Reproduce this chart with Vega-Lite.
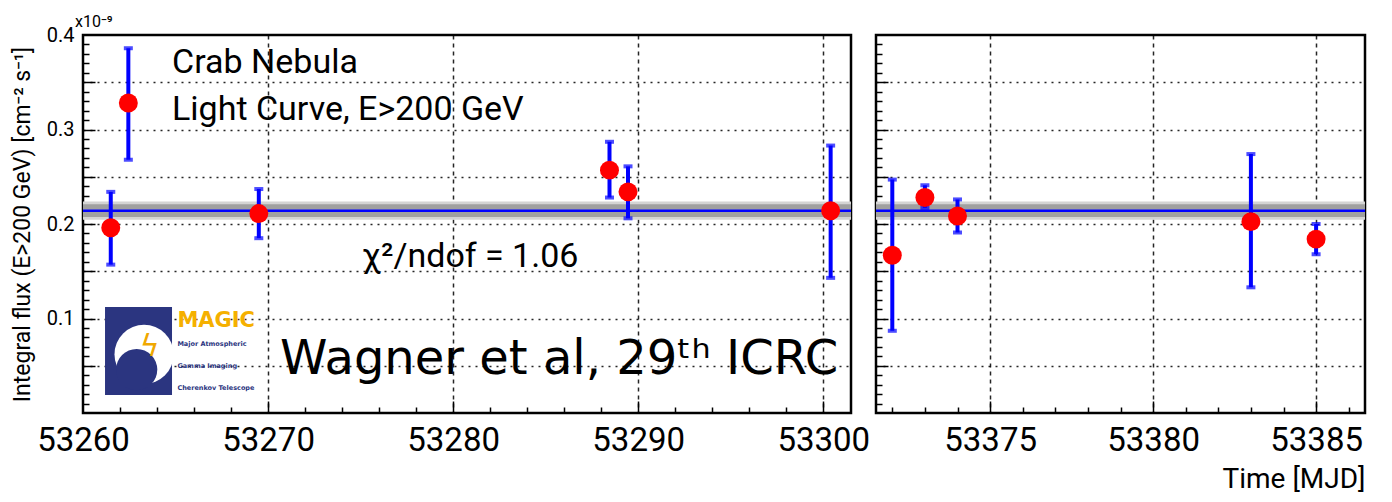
{
  "$schema": "https://vega.github.io/schema/vega-lite/v6.json",
  "background": "white",
  "padding": {"left": 9, "top": 12, "right": 5, "bottom": 5},
  "bounds": "flush",
  "spacing": 25,
  "datasets": {
    "left": [
      {"mjd": 53261.5, "flux": 0.196, "lo": 0.157, "hi": 0.234},
      {"mjd": 53262.45, "flux": 0.328, "lo": 0.268, "hi": 0.386},
      {"mjd": 53269.5, "flux": 0.211, "lo": 0.185, "hi": 0.237},
      {"mjd": 53288.45, "flux": 0.257, "lo": 0.228, "hi": 0.287},
      {"mjd": 53289.45, "flux": 0.234, "lo": 0.206, "hi": 0.261},
      {"mjd": 53300.4, "flux": 0.214, "lo": 0.143, "hi": 0.283}
    ],
    "right": [
      {"mjd": 53372, "flux": 0.167, "lo": 0.087, "hi": 0.247},
      {"mjd": 53373, "flux": 0.228, "lo": 0.217, "hi": 0.241},
      {"mjd": 53374, "flux": 0.2085, "lo": 0.191, "hi": 0.226},
      {"mjd": 53383, "flux": 0.2025, "lo": 0.133, "hi": 0.274},
      {"mjd": 53385, "flux": 0.184, "lo": 0.168, "hi": 0.2}
    ]
  },
  "config": {
    "view": {"stroke": "black", "strokeWidth": 2.5},
    "axis": {
      "domain": false,
      "labelFont": "Roboto, sans-serif",
      "titleFont": "Roboto, sans-serif",
      "labelColor": "black",
      "titleColor": "black",
      "tickColor": "black",
      "tickWidth": 1.5,
      "gridColor": "black",
      "gridWidth": 1.5,
      "gridOpacity": 0.85
    },
    "text": {"font": "Roboto, sans-serif", "color": "black"}
  },
  "hconcat": [
    {
      "width": 768,
      "height": 378,
      "data": {"name": "left"},
      "resolve": {"axis": {"x": "independent", "y": "independent"}},
      "layer": [
        {
          "data": {"values": [{}]},
          "mark": {"type": "rect", "color": "#d4d4d4"},
          "encoding": {"y": {"datum": 0.2045, "type": "quantitative", "axis": null}, "y2": {"datum": 0.2238}}
        },
        {
          "data": {"values": [{}]},
          "mark": {"type": "rect", "color": "#a0a0a0"},
          "encoding": {"y": {"datum": 0.2075, "type": "quantitative", "axis": null}, "y2": {"datum": 0.2208}}
        },
        {
          "data": {"values": [{}]},
          "mark": {"type": "rule", "color": "#0000ff", "strokeWidth": 2.5},
          "encoding": {"y": {"datum": 0.2141, "type": "quantitative", "axis": null}}
        },
        {
          "mark": {"type": "rule", "color": "#0000ff", "strokeWidth": 4},
          "encoding": {
            "x": {"field": "mjd", "type": "quantitative", "scale": {"domain": [53260, 53301.5], "nice": false, "zero": false},
              "axis": {"orient": "bottom", "values": [53270, 53280, 53290, 53300], "labels": false, "title": null, "tickSize": -12, "grid": true, "gridDash": [4, 4]}},
            "y": {"field": "lo", "type": "quantitative", "scale": {"domain": [0, 0.4], "nice": false, "zero": false},
              "axis": {"orient": "left", "values": [0.05, 0.1, 0.15, 0.2, 0.25, 0.3, 0.35], "labels": false, "title": null, "tickSize": -12, "grid": true, "gridDash": [2, 5]}},
            "y2": {"field": "hi"}
          }
        },
        {
          "mark": {"type": "tick", "orient": "horizontal", "color": "#0000ff", "size": 9, "thickness": 4},
          "encoding": {
            "x": {"field": "mjd", "type": "quantitative",
              "axis": {"orient": "bottom", "values": [53262, 53264, 53266, 53268, 53272, 53274, 53276, 53278, 53282, 53284, 53286, 53288, 53292, 53294, 53296, 53298], "labels": false, "title": null, "tickSize": -6, "grid": false}},
            "y": {"field": "lo", "type": "quantitative",
              "axis": {"orient": "left", "values": [0.01, 0.02, 0.03, 0.04, 0.06, 0.07, 0.08, 0.09, 0.11, 0.12, 0.13, 0.14, 0.16, 0.17, 0.18, 0.19, 0.21, 0.22, 0.23, 0.24, 0.26, 0.27, 0.28, 0.29, 0.31, 0.32, 0.33, 0.34, 0.36, 0.37, 0.38, 0.39], "labels": false, "title": null, "tickSize": -6, "grid": false}}
          }
        },
        {
          "mark": {"type": "tick", "orient": "horizontal", "color": "#0000ff", "size": 9, "thickness": 4},
          "encoding": {
            "x": {"field": "mjd", "type": "quantitative", "axis": null},
            "y": {"field": "hi", "type": "quantitative", "axis": null}
          }
        },
        {
          "mark": {"type": "point", "shape": "circle", "filled": true, "color": "#ff0000", "size": 360, "opacity": 1},
          "encoding": {
            "x": {"field": "mjd", "type": "quantitative",
              "axis": {"orient": "bottom", "values": [53260, 53270, 53280, 53290, 53300], "format": "d", "ticks": false, "grid": false, "title": null, "labelFontSize": 33, "labelPadding": 11, "labelFlush": false}},
            "y": {"field": "flux", "type": "quantitative",
              "axis": {"orient": "left", "values": [0.1, 0.2, 0.3, 0.4], "ticks": false, "grid": false, "labelFontSize": 20, "labelPadding": 9, "format": ".1f",
                "title": "Integral flux (E>200 GeV) [cm⁻² s⁻¹]", "titleFontSize": 23, "titleFontWeight": "normal", "titlePadding": 12}}
          }
        },
        {
          "data": {"values": [{}]},
          "mark": {"type": "rect", "color": "#2b3580"},
          "encoding": {
            "x": {"datum": 53261.19, "type": "quantitative", "axis": null}, "x2": {"datum": 53264.81},
            "y": {"datum": 0.1122, "type": "quantitative", "axis": null}, "y2": {"datum": 0.019}
          }
        },
        {
          "data": {"values": [{}]},
          "mark": {"type": "point", "shape": "circle", "filled": true, "color": "white", "size": 3500, "opacity": 1},
          "encoding": {"x": {"datum": 53263.3, "type": "quantitative", "axis": null}, "y": {"datum": 0.062, "type": "quantitative", "axis": null}}
        },
        {
          "data": {"values": [{}]},
          "mark": {"type": "point", "shape": "circle", "filled": true, "color": "#2b3580", "size": 1700, "opacity": 1},
          "encoding": {"x": {"datum": 53262.9, "type": "quantitative", "axis": null}, "y": {"datum": 0.046, "type": "quantitative", "axis": null}}
        },
        {
          "data": {"values": [{}]},
          "mark": {"type": "text", "text": "ϟ", "color": "#f0a800", "fontSize": 30, "font": "DejaVu Sans", "align": "center", "baseline": "middle"},
          "encoding": {"x": {"datum": 53263.6, "type": "quantitative", "axis": null}, "y": {"datum": 0.07, "type": "quantitative", "axis": null}}
        },
        {
          "data": {"values": [{}]},
          "mark": {"type": "text", "text": "MAGIC", "color": "#f5b000", "fontSize": 21, "fontWeight": "bold", "font": "DejaVu Sans", "align": "left", "baseline": "alphabetic"},
          "encoding": {"x": {"datum": 53265.1, "type": "quantitative", "axis": null}, "y": {"datum": 0.0905, "type": "quantitative", "axis": null}}
        },
        {
          "data": {"values": [{}]},
          "mark": {"type": "text", "text": "Major Atmospheric", "color": "#2b3580", "fontSize": 6.5, "fontWeight": "bold", "font": "DejaVu Sans", "align": "left", "baseline": "alphabetic"},
          "encoding": {"x": {"datum": 53265.1, "type": "quantitative", "axis": null}, "y": {"datum": 0.071, "type": "quantitative", "axis": null}}
        },
        {
          "data": {"values": [{}]},
          "mark": {"type": "text", "text": "Gamma Imaging", "color": "#2b3580", "fontSize": 6.5, "fontWeight": "bold", "font": "DejaVu Sans", "align": "left", "baseline": "alphabetic"},
          "encoding": {"x": {"datum": 53265.1, "type": "quantitative", "axis": null}, "y": {"datum": 0.0475, "type": "quantitative", "axis": null}}
        },
        {
          "data": {"values": [{}]},
          "mark": {"type": "text", "text": "Cherenkov Telescope", "color": "#2b3580", "fontSize": 6.5, "fontWeight": "bold", "font": "DejaVu Sans", "align": "left", "baseline": "alphabetic"},
          "encoding": {"x": {"datum": 53265.1, "type": "quantitative", "axis": null}, "y": {"datum": 0.024, "type": "quantitative", "axis": null}}
        },
        {
          "data": {"values": [{}]},
          "mark": {"type": "text", "text": "Crab Nebula", "fontSize": 34, "align": "left", "baseline": "alphabetic"},
          "encoding": {"x": {"datum": 53264.81, "type": "quantitative", "axis": null}, "y": {"datum": 0.3598, "type": "quantitative", "axis": null}}
        },
        {
          "data": {"values": [{}]},
          "mark": {"type": "text", "text": "Light Curve, E>200 GeV", "fontSize": 34, "align": "left", "baseline": "alphabetic"},
          "encoding": {"x": {"datum": 53264.81, "type": "quantitative", "axis": null}, "y": {"datum": 0.31, "type": "quantitative", "axis": null}}
        },
        {
          "data": {"values": [{}]},
          "mark": {"type": "text", "text": "χ²/ndof = 1.06", "fontSize": 34, "align": "left", "baseline": "alphabetic"},
          "encoding": {"x": {"datum": 53275.08, "type": "quantitative", "axis": null}, "y": {"datum": 0.1545, "type": "quantitative", "axis": null}}
        },
        {
          "data": {"values": [{}]},
          "mark": {"type": "text", "text": "Wagner et al, 29ᵗʰ ICRC", "fontSize": 48, "font": "DejaVu Sans", "align": "left", "baseline": "alphabetic"},
          "encoding": {"x": {"datum": 53270.65, "type": "quantitative", "axis": null}, "y": {"datum": 0.041, "type": "quantitative", "axis": null}}
        },
        {
          "data": {"values": [{}]},
          "mark": {"type": "text", "text": "x10⁻⁹", "fontSize": 16, "align": "left", "baseline": "alphabetic", "dx": -8, "dy": -8},
          "encoding": {"x": {"datum": 53260, "type": "quantitative", "axis": null}, "y": {"datum": 0.4, "type": "quantitative", "axis": null}}
        }
      ]
    },
    {
      "width": 489,
      "height": 378,
      "data": {"name": "right"},
      "resolve": {"axis": {"x": "independent", "y": "independent"}},
      "layer": [
        {
          "data": {"values": [{}]},
          "mark": {"type": "rect", "color": "#d4d4d4"},
          "encoding": {"y": {"datum": 0.2045, "type": "quantitative", "axis": null}, "y2": {"datum": 0.2238}}
        },
        {
          "data": {"values": [{}]},
          "mark": {"type": "rect", "color": "#a0a0a0"},
          "encoding": {"y": {"datum": 0.2075, "type": "quantitative", "axis": null}, "y2": {"datum": 0.2208}}
        },
        {
          "data": {"values": [{}]},
          "mark": {"type": "rule", "color": "#0000ff", "strokeWidth": 2.5},
          "encoding": {"y": {"datum": 0.2141, "type": "quantitative", "axis": null}}
        },
        {
          "mark": {"type": "rule", "color": "#0000ff", "strokeWidth": 4},
          "encoding": {
            "x": {"field": "mjd", "type": "quantitative", "scale": {"domain": [53371.5, 53386.5], "nice": false, "zero": false},
              "axis": {"orient": "bottom", "values": [53375, 53380, 53385], "labels": false, "title": null, "tickSize": -12, "grid": true, "gridDash": [4, 4]}},
            "y": {"field": "lo", "type": "quantitative", "scale": {"domain": [0, 0.4], "nice": false, "zero": false},
              "axis": {"orient": "left", "values": [0.05, 0.1, 0.15, 0.2, 0.25, 0.3, 0.35], "labels": false, "title": null, "tickSize": -12, "grid": true, "gridDash": [2, 5]}},
            "y2": {"field": "hi"}
          }
        },
        {
          "mark": {"type": "tick", "orient": "horizontal", "color": "#0000ff", "size": 9, "thickness": 4},
          "encoding": {
            "x": {"field": "mjd", "type": "quantitative",
              "axis": {"orient": "bottom", "values": [53372, 53373, 53374, 53376, 53377, 53378, 53379, 53381, 53382, 53383, 53384, 53386], "labels": false, "title": null, "tickSize": -6, "grid": false}},
            "y": {"field": "lo", "type": "quantitative",
              "axis": {"orient": "left", "values": [0.01, 0.02, 0.03, 0.04, 0.06, 0.07, 0.08, 0.09, 0.11, 0.12, 0.13, 0.14, 0.16, 0.17, 0.18, 0.19, 0.21, 0.22, 0.23, 0.24, 0.26, 0.27, 0.28, 0.29, 0.31, 0.32, 0.33, 0.34, 0.36, 0.37, 0.38, 0.39], "labels": false, "title": null, "tickSize": -6, "grid": false}}
          }
        },
        {
          "mark": {"type": "tick", "orient": "horizontal", "color": "#0000ff", "size": 9, "thickness": 4},
          "encoding": {
            "x": {"field": "mjd", "type": "quantitative", "axis": null},
            "y": {"field": "hi", "type": "quantitative", "axis": null}
          }
        },
        {
          "mark": {"type": "point", "shape": "circle", "filled": true, "color": "#ff0000", "size": 360, "opacity": 1},
          "encoding": {
            "x": {"field": "mjd", "type": "quantitative",
              "axis": {"orient": "bottom", "values": [53375, 53380, 53385], "format": "d", "ticks": false, "grid": false, "labelFontSize": 33, "labelPadding": 11, "labelFlush": false,
                "title": "Time [MJD]", "titleFontSize": 28, "titleFontWeight": "normal", "titleAnchor": "end", "titlePadding": 8}},
            "y": {"field": "flux", "type": "quantitative", "axis": null}
          }
        }
      ]
    }
  ]
}
